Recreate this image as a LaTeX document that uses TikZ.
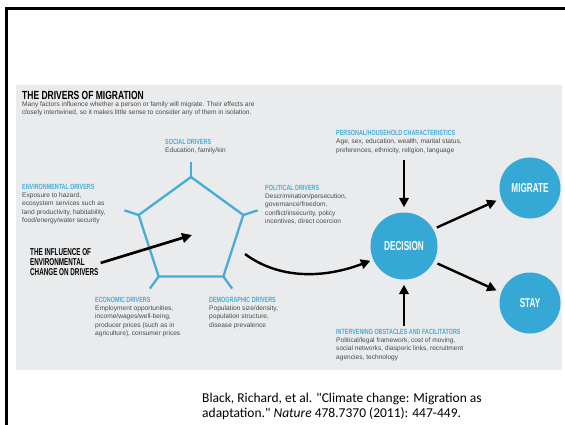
\documentclass[tikz,border=0pt]{standalone}
\usepackage{fontspec}
\setmainfont{Liberation Sans}
\newfontfamily\headfont[FakeStretch=0.72]{Liberation Sans Bold}
\newfontfamily\narrowfont[FakeStretch=0.63]{Liberation Sans Bold}
\newfontfamily\citefont{Carlito}
\usetikzlibrary{arrows.meta,positioning}
\definecolor{panelgray}{HTML}{E9EBED}
\definecolor{driverblue}{HTML}{45ADD8}
\definecolor{circleblue}{HTML}{35A8D6}
\definecolor{bodygray}{HTML}{4A4A4A}
\newcommand{\drv}[1]{{\headfont\fontsize{7.5}{8.5}\selectfont\color{driverblue}#1}}
\tikzset{
	bodytext/.style={anchor=north west,align=left,inner sep=0pt,text=bodygray,font=\fontsize{6.6}{8.2}\selectfont},
	bigcircle/.style={circle,fill=circleblue,minimum size=#1,inner sep=0pt,text=white,font=\narrowfont\fontsize{13}{14}\selectfont},
	bigarrow/.style={line width=2.4pt,-{Triangle[length=9.5pt,width=9.5pt]}},
	spoke/.style={driverblue,line width=2.3pt},
}

\begin{document}
\begin{tikzpicture}[x=1pt,y=-1pt]
			% slide frame and grey panel
			\useasboundingbox (0,0) rectangle (565,425);
			\fill[white] (0,0) rectangle (565,425);
			\fill[panelgray] (16,85) rectangle (562,370);
			\draw[line width=3.5pt] (6.5,425) -- (6.5,8.3) -- (565,8.3);
			
			% title and introduction
			\node[anchor=north west,inner sep=0pt,font=\headfont\fontsize{11.8}{13}\selectfont] (title) at (22,91) {THE DRIVERS OF MIGRATION};
			\node[bodytext,below=2pt of title.south west,anchor=north west] (intro) {Many factors influence whether a person or family will migrate. Their effects are\\closely intertwined, so it makes little sense to consider any of them in isolation.};
			
			% pentagon of drivers
			\coordinate (pcenter) at (191,232);
			\foreach \a [count=\i] in {90,162,234,306,378}{
				\coordinate (v\i) at ([shift={(-\a:55)}]pcenter);
				\coordinate (s\i) at ([shift={(-\a:70)}]pcenter);
				\draw[spoke] (v\i) -- (s\i);
			}
			\draw[spoke,line join=round] (v1) -- (v2) -- (v3) -- (v4) -- (v5) -- cycle;
			
			% the five drivers
			\node[bodytext] (social) at (165,139) {\drv{SOCIAL DRIVERS}\\Education, family/kin};
			\node[bodytext] (environ) at (22,184) {\drv{ENVIRONMENTAL DRIVERS}\\Exposure to hazard,\\ecosystem services such as\\land productivity, habitability,\\food/energy/water security};
			\node[bodytext] (political) at (265,185) {\drv{POLITICAL DRIVERS}\\Descrimination/persecution,\\governance/freedom,\\conflict/insecurity, policy\\incentives, direct coercion};
			\node[bodytext] (economic) at (95,297) {\drv{ECONOMIC DRIVERS}\\Employment opportunities,\\income/wages/well-being,\\producer prices (such as in\\agriculture), consumer prices};
			\node[bodytext] (demographic) at (209,297) {\drv{DEMOGRAPHIC DRIVERS}\\Population size/density,\\population structure,\\disease prevalence};
			
			% influence of environmental change
			\node[anchor=north west,align=left,inner sep=0pt,font=\narrowfont\fontsize{10}{10.2}\selectfont] (influence) at (30,248) {THE INFLUENCE OF\\ENVIRONMENTAL\\CHANGE ON DRIVERS};
			\draw[line width=2.7pt,-{Triangle[length=10pt,width=9.5pt]}] ([xshift=2pt,yshift=-1pt]influence.east) -- ([shift={(1,3)}]pcenter);
			
			% decision and outcomes
			\node[bigcircle=67pt] (decision) at (404,246) {DECISION};
			\node[bigcircle=61pt] (migrate) at (530,188) {MIGRATE};
			\node[bigcircle=61pt] (stay) at (530,303) {STAY};
			
			\node[bodytext] (personal) at (336,130) {\drv{PERSONAL/HOUSEHOLD CHARACTERISTICS}\\Age, sex, education, wealth, marital status,\\preferences, ethnicity, religion, language};
			\node[bodytext] (intervening) at (336,329) {\drv{INTERVENING OBSTACLES AND FACILITATORS}\\Political/legal framework, cost of moving,\\social networks, diasporic links, recruitment\\agencies, technology};
			
			\coordinate (pdrop) at (404,160);
			\coordinate (ipush) at (404,326);
			\coordinate (pexit) at (245,254);
			\draw[bigarrow,shorten >=5pt] (pdrop) -- (decision.north);
			\draw[bigarrow,shorten >=5pt] (ipush) -- (decision.south);
			\draw[bigarrow,shorten <=4pt,shorten >=5pt] (decision.30) -- (migrate.200);
			\draw[bigarrow,shorten <=4pt,shorten >=5pt] (decision.-28) -- (stay.160);
			\draw[bigarrow,shorten >=3pt] (pexit) .. controls (280,280) and (325,278) .. (decision.204);
			
			% reference
			\node[anchor=north west,align=left,inner sep=0pt,font=\citefont\fontsize{13.5}{14.5}\selectfont] (cite) at (202,393) {Black, Richard, et al. "Climate change: Migration as\\adaptation." \textit{Nature} 478.7370 (2011): 447-449.};
			
			\end{tikzpicture}
\end{document}
